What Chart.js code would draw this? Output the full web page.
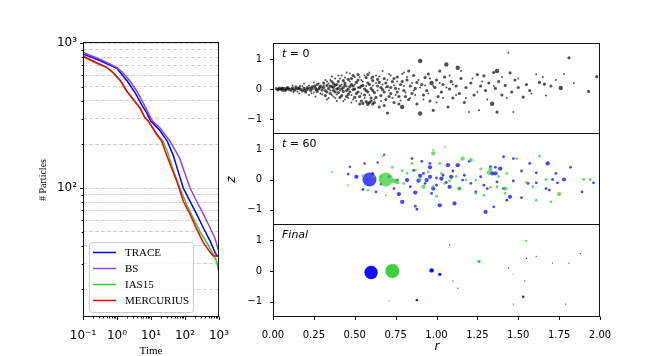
<!DOCTYPE html>
<html>
<head>
<meta charset="utf-8">
<script src="https://cdn.jsdelivr.net/npm/chart.js@4.4.1/dist/chart.umd.min.js"></script>
<style>
  body { margin: 0; background: #fff; }
  #wrap { position: relative; width: 667px; height: 356px; overflow: hidden; background: #fff; }
  canvas { position: absolute; }
</style>
</head>
<body>
<div id="wrap">
  <canvas id="counts" width="240" height="356" style="left:0;top:0"></canvas>
  <canvas id="snap0" width="445" height="144" style="left:222px;top:0"></canvas>
  <canvas id="snap60" width="445" height="111" style="left:222px;top:124px"></canvas>
  <canvas id="snapEnd" width="445" height="141" style="left:222px;top:215px"></canvas>
</div>
<script>
// number of particles left vs time, one pair of arrays per integrator
const traceTime = [0.1, 0.3, 1.0, 2.0, 3.5, 5.5, 7.5, 9.8, 18, 30, 45, 60, 89, 141, 220, 347, 550, 760, 880, 1000];
const traceN    = [840, 760, 668, 547, 450, 370, 330, 290, 250, 211, 168, 135, 100, 81, 66, 53, 43, 36, 34, 34];
const bsTime = [0.1, 0.33, 1.0, 1.5, 2.4, 3.8, 5.9, 8.3, 11, 18, 36, 70, 100, 141, 220, 347, 550, 760, 1000];
const bsN    = [860, 770, 676, 624, 547, 467, 387, 330, 290, 261, 211, 160, 126, 100, 81, 66, 53, 45, 36];
const iasTime = [0.1, 0.25, 0.5, 0.78, 1.28, 1.93, 3.0, 4.7, 6.6, 8.3, 14.7, 22, 30, 46, 71, 112, 175, 275, 436, 680, 850, 1000];
const iasN    = [805, 725, 676, 620, 545, 466, 408, 357, 306, 290, 236, 212, 180, 131, 100, 77, 62, 50, 42, 35, 31, 26];
const mercTime = [0.1, 0.25, 0.5, 0.78, 1.28, 1.93, 3.0, 4.7, 6.6, 8.3, 14.7, 20.5, 26, 40, 57, 89, 141, 220, 347, 550, 680, 1000];
const mercN    = [813, 731, 680, 624, 547, 467, 409, 358, 306, 290, 234, 211, 180, 138, 112, 81, 66, 52, 42, 36, 34, 34];

const timeTicks = [0.1, 1, 10, 100, 1000];
const timeLabels = ['10\u207B\u00B9', '10\u2070', '10\u00B9', '10\u00B2', '10\u00B3'];
const countTicks = [20, 30, 40, 50, 60, 70, 80, 90, 100, 200, 300, 400, 500, 600, 700, 800, 900, 1000];

// snapshots: [r, z, relative mass]
const t0Bodies = [
  [0.02,0.01,2.5],[0.03,-0.03,2.5],[0.035,0.0,2.5],[0.04,0.03,2.5],[0.05,-0.01,2.5],[0.055,0.02,2.5],[0.06,0.04,1],[0.06,-0.05,2.5],
  [0.07,0.01,2.5],[0.075,-0.06,1],[0.08,-0.03,2.5],[0.085,0.02,2.5],[0.09,0.05,2.5],[0.10,-0.02,2.5],[0.10,0.02,1],[0.11,-0.07,1],
  [0.115,0.0,2.5],[0.12,0.03,2.5],[0.125,-0.1,1],[0.13,-0.04,2.5],[0.14,0.07,2.5],[0.14,0.0,2.5],[0.15,-0.08,1],[0.155,0.02,2.5],
  [0.16,0.04,2.5],[0.165,0.1,1],[0.17,-0.02,2.5],[0.18,0.09,1],[0.18,-0.06,2.5],[0.19,0.02,2.5],[0.195,-0.04,2.5],[0.20,-0.10,2.5],
  [0.21,0.05,2.5],[0.21,-0.01,2.5],[0.22,0.12,1],[0.225,0.03,2.5],[0.23,-0.05,2.5],[0.235,-0.14,1],[0.24,0.08,2.5],[0.24,0.01,2.5],
  [0.25,-0.12,1],[0.255,0.1,2.5],[0.26,0.03,2.5],[0.265,-0.02,2.5],[0.27,-0.08,2.5],[0.27,0.15,2.5],[0.28,0.0,2.5],[0.285,0.05,2.5],
  [0.29,-0.15,1],[0.29,0.10,2.5],[0.30,-0.03,2.5],[0.30,0.06,1],
  [0.12,0.12,1],[0.16,-0.15,1],[0.19,0.18,1],[0.22,-0.2,1],[0.25,0.22,1],[0.26,-0.25,1],[0.28,0.18,1],[0.30,-0.18,1],
  [0.31,0.2,2.5],[0.31,0.05,2.5],[0.32,-0.22,2.5],[0.32,-0.05,2.5],[0.33,0.12,2.5],[0.33,-0.1,2.5],[0.33,0.25,1],[0.34,0.02,2.5],
  [0.34,-0.3,1],[0.35,0.3,1],[0.35,-0.15,2.5],[0.35,0.1,2.5],[0.36,0.08,2.5],[0.36,-0.2,1],[0.36,0.42,1],[0.37,-0.05,2.5],
  [0.37,0.18,2.5],[0.37,0.05,2.5],[0.38,-0.3,1],[0.38,0.35,1],[0.38,-0.1,2.5],[0.39,0.0,2.5],[0.39,0.15,2.5],[0.39,-0.4,1],
  [0.40,-0.12,2.5],[0.40,0.25,2.5],[0.40,0.02,2.5],[0.41,0.1,2.5],[0.41,-0.28,2.5],[0.41,0.35,1],[0.42,-0.22,2.5],[0.42,0.45,1],
  [0.42,0.0,2.5],[0.43,0.05,2.5],[0.43,-0.08,2.5],[0.43,0.28,2.5],[0.44,-0.35,1],[0.44,0.2,2.5],[0.44,0.12,2.5],[0.45,-0.05,2.5],
  [0.45,-0.25,2.5],[0.45,0.55,1],[0.46,0.32,2.5],[0.46,-0.18,2.5],[0.46,0.0,2.5],[0.47,0.52,1],[0.47,0.08,2.5],[0.47,-0.1,2.5],
  [0.48,-0.45,1],[0.48,0.15,2.5],[0.48,0.35,2.5],[0.49,-0.02,2.5],[0.49,-0.35,1],[0.49,0.1,2.5],[0.50,0.4,1],[0.50,-0.28,2.5],
  [0.50,0.0,2.5],[0.51,0.22,2.5],[0.51,-0.15,2.5],[0.52,-0.1,2.5],[0.52,0.48,2.5],[0.52,0.3,2.5],[0.53,0.05,2.5],[0.53,-0.5,2.5],
  [0.53,-0.25,2.5],[0.54,-0.4,2.5],[0.54,0.3,1],[0.54,0.1,2.5],[0.55,-0.48,2.5],[0.55,0.12,2.5],[0.56,-0.2,2.5],[0.56,0.0,2.5],
  [0.56,0.45,1],[0.57,0.38,2.5],[0.57,-0.05,2.5],[0.57,-0.42,2.5],[0.58,-0.5,4],[0.58,0.2,2.5],[0.58,-0.1,2.5],[0.59,0.55,1],
  [0.59,0.15,2.5],[0.59,-0.45,2.5],[0.60,-0.3,2.5],[0.60,0.02,2.5],[0.60,-0.4,2.5],[0.61,0.28,2.5],[0.61,-0.5,2.5],[0.61,-0.05,2.5],
  [0.61,0.4,2.5],[0.62,-0.12,2.5],[0.62,-0.45,2.5],[0.63,0.45,1],[0.63,-0.28,2.5],[0.64,0.1,2.5],[0.64,0.32,2.5],[0.65,-0.6,2.5],
  [0.65,0.22,2.5],[0.66,-0.22,2.5],[0.66,0.05,2.5],[0.67,0.6,1],[0.67,-0.02,2.5],[0.68,0.35,2.5],[0.68,-0.1,2.5],[0.69,-0.35,2.5],
  [0.69,0.2,2.5],[0.70,0.08,2.5],[0.70,-0.8,2.5],[0.71,0.5,1],[0.71,-0.25,2.5],[0.72,-0.15,2.5],[0.72,0.05,2.5],[0.73,0.25,2.5],
  [0.74,-0.45,2.5],[0.74,0.35,2.5],[0.75,0.02,2.5],[0.76,0.4,2.5],[0.76,-0.1,2.5],[0.77,-0.25,2.5],[0.77,-0.5,2.5],[0.78,0.15,2.5],
  [0.79,-0.6,5],[0.79,0.25,2.5],[0.80,0.55,1],[0.80,-0.05,2.5],[0.81,-0.25,2.5],[0.82,0.3,2.5],[0.83,-0.35,2.5],[0.83,0.6,2.5],
  [0.84,0.1,2.5],[0.85,-0.15,2.5],[0.86,0.45,2.5],[0.87,0.02,2.5],[0.88,-0.5,2.5],[0.88,0.22,2.5],[0.90,0.93,5],[0.90,-0.82,5],
  [0.91,0.15,2.5],[0.92,-0.2,2.5],[0.93,0.38,2.5],[0.94,-0.05,2.5],[0.95,0.5,2.5],[0.96,-0.4,2.5],[0.97,0.2,5],[0.98,-0.71,2.5],
  [0.99,0.05,2.5],[1.00,0.3,2.5],[1.01,-0.25,2.5],[1.02,0.6,2.5],[1.03,-0.1,2.5],[1.04,0.15,2.5],[1.05,0.4,2.5],[1.06,0.82,5],
  [1.07,-0.6,2.5],[1.08,0.0,2.5],[1.09,0.25,2.5],[1.10,-0.3,2.5],[1.12,0.1,2.5],[1.13,0.71,5],[1.14,-0.15,2.5],[1.15,0.35,2.5],
  [1.17,-0.45,2.5],[1.18,0.05,2.5],[1.20,-0.77,1],[1.21,0.2,2.5],[1.23,-0.2,2.5],[1.25,0.48,2.5],[1.26,-0.71,1],[1.27,0.1,2.5],
  [1.29,0.44,2.5],[1.30,-0.05,2.5],[1.32,0.2,2.5],[1.34,-0.49,5],[1.35,0.55,2.5],[1.36,0.02,2.5],[1.37,0.6,5],[1.37,-0.77,2.5],
  [1.38,0.25,2.5],[1.40,-0.2,2.5],[1.42,0.12,2.5],[1.44,1.21,1],[1.45,0.54,2.5],[1.46,-0.1,2.5],[1.47,-0.77,1],[1.48,0.3,2.5],
  [1.50,0.05,2.5],[1.53,-0.27,2.5],[1.55,0.15,2.5],[1.57,-0.05,2.5],[1.61,0.49,1],[1.63,0.22,2.5],[1.66,0.16,2.5],[1.67,-0.22,1],
  [1.70,0.1,2.5],[1.73,0.3,1],[1.76,0.03,5],[1.78,0.5,1],[1.81,1.04,2.5],[1.84,0.2,1],[1.93,-0.08,2.5],[1.98,0.41,2.5],
  [0.31,0.12,1],[0.32,0.3,1],[0.33,-0.35,1],[0.34,0.18,1],[0.35,-0.05,1],[0.36,0.25,2.5],[0.37,-0.25,1],[0.38,0.12,2.5],
  [0.39,-0.18,1],[0.40,0.45,1],[0.41,-0.05,1],[0.42,0.15,1],[0.43,-0.4,1],[0.44,0.38,1],[0.45,0.08,1],[0.46,-0.3,1],
  [0.47,0.25,1],[0.48,-0.2,1],[0.49,0.45,2.5],[0.50,0.15,1],[0.51,-0.4,1],[0.52,0.05,1],[0.53,0.4,1],[0.54,-0.15,1],
  [0.55,0.25,1],[0.56,-0.3,1],[0.57,0.1,1],[0.58,0.48,2.5],[0.59,-0.2,1],[0.60,0.35,1],[0.61,0.12,1],[0.62,-0.35,1],
  [0.63,0.2,1],[0.64,-0.05,1],[0.65,0.42,1],[0.66,-0.4,1],[0.67,0.15,1],[0.68,-0.55,2.5],[0.69,0.05,1],[0.70,0.3,1],
  [0.71,-0.05,1],[0.72,0.45,1],[0.73,-0.3,1],[0.74,0.12,1],[0.75,-0.2,1],[0.76,0.25,1],[0.77,0.0,1],[0.78,-0.38,1],
  [0.79,0.5,1],[0.80,0.1,1],[0.81,-0.12,1],[0.82,0.4,1],[0.84,-0.3,1],[0.85,0.2,1],[0.86,-0.05,1],[0.87,-0.2,1],
  [0.89,0.3,1],[0.90,0.05,1],[0.92,-0.35,1],[0.93,0.12,1],[0.95,-0.15,1],[0.96,0.35,1],[0.98,0.1,1],[1.00,-0.45,1],
  [1.02,0.2,1],[1.04,-0.3,1],[1.06,0.05,1],[1.08,0.45,1],[1.10,0.15,1],[1.12,-0.2,1],[1.15,0.6,1],[1.18,-0.3,1],
  [1.22,0.35,1],[1.25,-0.1,1],[1.28,0.25,1],[1.31,-0.35,1],[1.35,0.1,1],[1.40,0.4,1],[1.43,-0.3,1],[1.50,0.35,1],
  [1.58,-0.15,1],[1.65,0.4,1]
];
const t60Blue = [
  [0.59,0.0,49],[0.51,0.09,4.5],[0.46,0.18,2],[0.47,0.42,1.5],[0.56,0.53,1.5],[0.64,0.56,1.5],[0.68,0.82,1.5],[0.55,-0.33,2],
  [0.63,-0.41,2],[0.74,-0.30,2],[0.77,-0.48,4.5],[0.79,-0.74,4.5],[0.87,-0.88,2],[0.88,-0.98,2],[0.96,0.53,2],[0.96,0.40,4.5],
  [1.07,0.47,4.5],[1.13,0.47,4.5],[0.85,0.69,2],[0.89,-0.04,4.5],[0.87,-0.43,4.5],[0.92,0.2,2],[0.96,0.09,4.5],[1.03,0.03,4.5],
  [1.09,0.09,4.5],[1.08,-0.24,4.5],[1.02,-0.85,4.5],[1.11,-0.79,4.5],[1.16,-0.02,2],[1.29,-0.19,2],[1.30,-1.07,4.5],[1.33,0.42,2],
  [1.36,0.40,2],[1.34,0.2,4.5],[1.36,0.2,4.5],[1.39,0.36,4.5],[1.37,-0.08,2],[1.41,-0.30,2],[1.45,-0.57,4.5],[1.43,-0.68,2],
  [1.47,0.69,2],[1.57,0.53,2],[1.61,0.22,2],[1.68,0.53,4.5],[1.61,-0.11,2],[1.73,0.2,2],[1.71,0.0,2],[1.78,0.0,4.5],
  [1.82,0.40,2],[1.89,-0.41,2],[1.96,-0.11,2],[1.74,-0.11,2],[1.67,-0.30,2],[1.56,-0.13,2],[0.82,-0.02,4.5],[0.84,-0.24,2],
  [0.93,-0.13,2],[1.00,-0.19,2],[1.04,0.14,2],[1.17,0.14,2],[1.21,-0.13,2],[1.24,-0.41,2],[1.27,0.09,2],[1.14,-0.30,2],
  [0.97,-0.46,2],[0.76,-0.02,2],[0.71,0.09,2],[0.90,0.12,4.5],[0.94,-0.02,4.5],[1.00,0.05,2],[0.98,-0.30,4.5],[1.06,-0.10,2],
  [0.86,0.30,2],[1.10,0.28,2],[1.31,-0.30,2],[1.47,-0.05,2],[1.52,0.28,2],[1.69,-0.35,2],[0.66,-0.15,2],[0.61,0.2,2],
  [0.91,0.6,2],[1.20,0.6,2],[1.41,0.75,2],[1.52,-0.6,2],[1.35,-0.9,2]
];
const t60Green = [
  [0.69,0.0,49],[0.74,-0.04,6],[0.76,-0.08,5],[0.36,0.25,1],[0.46,-0.19,1],[0.58,-0.35,2],[0.67,0.77,1],[0.66,0.11,2],
  [0.69,-0.52,1],[0.73,0.40,2],[0.79,0.29,2],[0.82,0.2,2],[0.85,0.53,2],[0.98,0.86,4.5],[0.98,0.97,1],[1.05,1.08,1],
  [1.02,0.53,2],[1.03,0.2,2],[0.92,-0.24,4.5],[0.98,-0.24,2],[1.05,-0.13,2],[1.14,-0.30,4.5],[1.16,0.69,4.5],[1.21,0.64,4.5],
  [1.18,-0.02,2],[1.24,-0.46,2],[1.29,-0.52,2],[1.33,0.33,4.5],[1.32,0.22,4.5],[1.33,-0.26,2],[1.37,-0.24,2],[1.42,-0.30,4.5],
  [1.43,0.2,2],[1.49,0.69,2],[1.59,-0.24,2],[1.63,0.77,2],[1.61,-0.68,2],[1.70,-0.74,2],[1.75,-0.48,4.5],[1.90,0.0,2],
  [1.94,0.0,2],[1.67,0.0,2],[1.42,-0.46,2],[1.24,-0.02,2],[1.08,-0.04,2],[0.87,0.31,2],[0.90,0.0,2],[0.80,-0.13,2],
  [0.95,0.25,2],[1.12,0.1,2],[1.27,0.35,2],[0.62,0.1,2],[0.55,0.12,2],[1.55,-0.1,2],[1.38,0.1,2],[1.0,-0.55,2]
];
const endBlue = [
  [0.60,-0.05,45],[0.97,0.02,5],[1.02,-0.11,3],[0.88,-0.95,1.5],[1.53,-0.84,1.5],
  [1.10,-0.33,0.4],[1.13,-0.56,0.4],[1.44,0.1,0.4],[1.61,0.48,0.4],[1.88,0.57,0.4],[1.79,-1.08,0.4],
  [1.55,0.41,0.4],[1.71,0.26,0.4],[1.81,0.26,0.4],[1.54,-0.33,0.4],[1.47,-1.08,0.4],[1.08,0.85,0.4]
];
const endGreen = [
  [0.73,0.0,49],[1.26,0.31,3],[1.55,0.99,1],[0.71,-0.97,0.4],[1.47,-0.1,0.4]
];
const rTicks = [0, 0.25, 0.5, 0.75, 1, 1.25, 1.5, 1.75, 2];
const zTicks = [-1, 0, 1];

Chart.defaults.font.family = '"DejaVu Sans"';
Chart.defaults.color = '#000';

function drawRuns(ctx, t) {
  ctx.save();
  ctx.translate(t.x, t.y);
  if (t.rotate) ctx.rotate(t.rotate);
  let w = 0;
  for (const r of t.runs) { ctx.font = r.font; w += ctx.measureText(r.text).width; }
  let x = t.align === 'left' ? 0 : -w / 2;
  ctx.textBaseline = 'middle';
  ctx.textAlign = 'left';
  ctx.fillStyle = '#000';
  for (const r of t.runs) { ctx.font = r.font; ctx.fillText(r.text, x, 0); x += ctx.measureText(r.text).width; }
  ctx.restore();
}

function drawLegend(chart) {
  const ctx = chart.ctx, a = chart.chartArea;
  const x0 = Math.round(a.left) + 6, y0 = Math.round(a.bottom) - 75;
  ctx.save();
  ctx.fillStyle = 'rgba(255,255,255,0.8)';
  ctx.strokeStyle = '#cccccc';
  ctx.lineWidth = 1;
  ctx.beginPath();
  ctx.roundRect(x0 + 0.5, y0 + 0.5, 104, 70, 3);
  ctx.fill();
  ctx.stroke();
  chart.data.datasets.forEach((ds, i) => {
    const y = y0 + 10.5 + i * 16;
    ctx.strokeStyle = ds.borderColor;
    ctx.lineWidth = 1.5;
    ctx.beginPath();
    ctx.moveTo(x0 + 4, y);
    ctx.lineTo(x0 + 27, y);
    ctx.stroke();
    ctx.fillStyle = '#000';
    ctx.font = '11px "Liberation Serif"';
    ctx.textAlign = 'left';
    ctx.textBaseline = 'middle';
    ctx.fillText(ds.label, x0 + 36, y + 0.5);
  });
  ctx.restore();
}

const decor = {
  id: 'decor',
  afterDraw(chart, args, o) {
    const ctx = chart.ctx, a = chart.chartArea;
    const L = Math.round(a.left) + 0.5, R = Math.round(a.right) - 0.5;
    const T = Math.round(a.top) - 0.5, B = Math.round(a.bottom) - 0.5;
    ctx.save();
    ctx.strokeStyle = '#111';
    ctx.lineWidth = 1;
    ctx.beginPath();
    for (const [v, len] of (o.xTicks || [])) {
      const px = Math.round(chart.scales.x.getPixelForValue(v)) + 0.5;
      ctx.moveTo(px, B); ctx.lineTo(px, B + len);
    }
    for (const [v, len] of (o.yTicks || [])) {
      const py = Math.round(chart.scales.y.getPixelForValue(v)) + 0.5;
      ctx.moveTo(L, py); ctx.lineTo(L - len, py);
    }
    ctx.stroke();
    ctx.strokeRect(L, T, R - L, B - T);
    ctx.restore();
    for (const t of (o.texts || [])) {
      drawRuns(ctx, Object.assign({}, t, { x: a.left + t.dx, y: (t.fromBottom ? a.bottom : t.fromMid ? (a.top + a.bottom) / 2 : a.top) + t.dy }));
    }
    if (o.legend) drawLegend(chart);
  }
};

// fixed box sizes so the plot areas land where the figure has them
const fixWidth = w => s => { s.width = w; s.paddingTop = 0; s.paddingBottom = 0; };
const fixHeight = h => s => { s.height = h; s.paddingLeft = 0; s.paddingRight = 0; };

// ---- left panel: particle count ----
const minorTime = [];
[0.1, 1, 10, 100].forEach(d => { for (let k = 2; k <= 9; k++) minorTime.push([k * d, 2]); });
const serif = '"Liberation Serif"';

new Chart(document.getElementById('counts'), {
  type: 'scatter',
  data: {
    datasets: [
      { label: 'TRACE', data: traceTime.map((t, i) => ({ x: t, y: traceN[i] })), borderColor: '#0000ff', order: 4 },
      { label: 'BS', data: bsTime.map((t, i) => ({ x: t, y: bsN[i] })), borderColor: '#9146e6', order: 3 },
      { label: 'IAS15', data: iasTime.map((t, i) => ({ x: t, y: iasN[i] })), borderColor: '#33cc33', order: 2 },
      { label: 'MERCURIUS', data: mercTime.map((t, i) => ({ x: t, y: mercN[i] })), borderColor: '#ff0000', order: 1 }
    ].map(ds => Object.assign(ds, { showLine: true, pointRadius: 0, borderWidth: 1.5, tension: 0 }))
  },
  options: {
    responsive: false, animation: false, devicePixelRatio: 1,
    layout: { padding: { top: 43, right: 21, left: 0, bottom: 0 } },
    plugins: {
      legend: { display: false }, tooltip: { enabled: false },
      decor: {
        legend: true,
        xTicks: timeTicks.map(v => [v, 3.5]).concat(minorTime),
        yTicks: countTicks.map(v => [v, (v === 100 || v === 1000) ? 3.5 : 2]),
        texts: [
          { dx: 68, dy: 34, fromBottom: true, runs: [{ text: 'Time', font: '11px ' + serif }] },
          { dx: -40, dy: 0, fromMid: true, rotate: -Math.PI / 2, runs: [{ text: '# Particles', font: '10px ' + serif }] }
        ]
      }
    },
    scales: {
      x: {
        type: 'logarithmic', min: 0.1, max: 1000,
        afterBuildTicks: s => { s.ticks = timeTicks.map(v => ({ value: v })); },
        afterFit: fixHeight(39),
        grid: { display: false }, border: { display: false },
        ticks: { autoSkip: false, maxRotation: 0, padding: 4, font: { size: 12 },
          callback: v => timeLabels[timeTicks.indexOf(v)] }
      },
      y: {
        type: 'logarithmic', min: 12.9, max: 1000,
        afterBuildTicks: s => { s.ticks = countTicks.map(v => ({ value: v })); },
        afterFit: fixWidth(83),
        grid: { color: '#cfcfcf', lineWidth: 1, drawTicks: false },
        border: { display: false, dash: [4, 2] },
        ticks: { autoSkip: false, padding: 6, font: { size: 12 },
          callback: v => v === 100 ? '10\u00B2' : v === 1000 ? '10\u00B3' : '' }
      }
    }
  },
  plugins: [decor]
});

// ---- right panels: snapshots in (r, z) ----
const toPoints = arr => arr.map(p => ({ x: p[0], y: p[1] }));
const toRadius = arr => arr.map(p => Math.sqrt(p[2]));
const italic = 'italic 11px "DejaVu Sans"', upright = '11px "DejaVu Sans"';

function snapshot(id, datasets, o) {
  new Chart(document.getElementById(id), {
    type: 'scatter',
    data: { datasets: datasets.map(d => ({
      data: toPoints(d.bodies), pointRadius: toRadius(d.bodies),
      backgroundColor: d.color, borderWidth: 0, pointBorderWidth: 0, order: d.order
    })) },
    options: {
      responsive: false, animation: false, devicePixelRatio: 1,
      layout: { padding: { top: o.top, right: 67, left: 0, bottom: o.bottom } },
      plugins: {
        legend: { display: false }, tooltip: { enabled: false },
        decor: {
          xTicks: o.showR ? rTicks.map(v => [v, 3.5]) : [],
          yTicks: zTicks.map(v => [v, 3.5]),
          texts: o.texts
        }
      },
      scales: {
        x: {
          type: 'linear', min: 0, max: 2, display: o.showR,
          afterBuildTicks: s => { s.ticks = rTicks.map(v => ({ value: v })); },
          afterFit: fixHeight(o.showR ? 39 : 0),
          grid: { display: false }, border: { display: false },
          ticks: { autoSkip: false, maxRotation: 0, padding: 4, font: { size: 10 }, callback: v => v.toFixed(2) }
        },
        y: {
          type: 'linear', min: -1.5, max: 1.5,
          afterBuildTicks: s => { s.ticks = zTicks.map(v => ({ value: v })); },
          afterFit: fixWidth(51),
          grid: { display: false }, border: { display: false },
          ticks: { autoSkip: false, padding: 3, font: { size: 10 }, callback: v => v < 0 ? '\u2212' + Math.abs(v) : String(v) }
        }
      }
    },
    plugins: [decor]
  });
}

snapshot('snap0', [{ bodies: t0Bodies, color: 'rgba(0,0,0,0.68)', order: 1 }], {
  top: 44, bottom: 10, showR: false,
  texts: [{ dx: 9, dy: 10, align: 'left', runs: [{ text: 't', font: italic }, { text: ' = 0', font: upright }] }]
});
snapshot('snap60', [
  { bodies: t60Blue, color: 'rgba(0,0,255,0.72)', order: 2 },
  { bodies: t60Green, color: 'rgba(50,205,50,0.72)', order: 1 }
], {
  top: 10, bottom: 10, showR: false,
  texts: [
    { dx: 9, dy: 10, align: 'left', runs: [{ text: 't', font: italic }, { text: ' = 60', font: upright }] },
    { dx: -41, dy: 0, fromMid: true, rotate: -Math.PI / 2, runs: [{ text: 'z', font: 'italic 12px "DejaVu Sans"' }] }
  ]
});
snapshot('snapEnd', [
  { bodies: endBlue, color: 'rgba(0,0,255,0.95)', order: 2 },
  { bodies: endGreen, color: 'rgba(50,205,50,0.95)', order: 1 }
], {
  top: 10, bottom: 0, showR: true,
  texts: [
    { dx: 9, dy: 10, align: 'left', runs: [{ text: 'Final', font: italic }] },
    { dx: 164, dy: 30, fromBottom: true, runs: [{ text: 'r', font: 'italic 12px "DejaVu Sans"' }] }
  ]
});
</script>
</body>
</html>
